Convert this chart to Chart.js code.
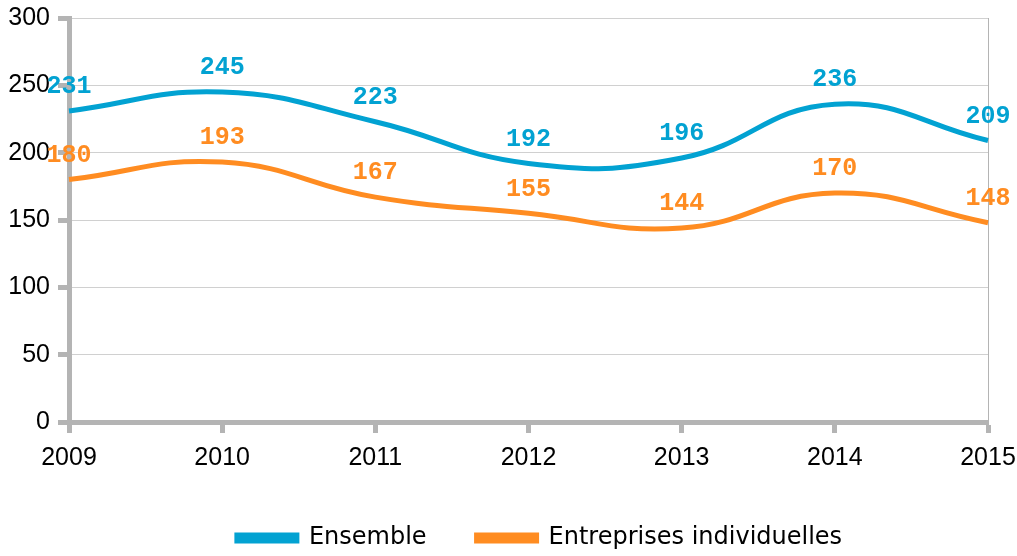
<!DOCTYPE html>
<html>
<head>
<meta charset="utf-8">
<script src="https://cdn.jsdelivr.net/npm/chart.js@4.4.1/dist/chart.umd.min.js"></script>
<style>
  html, body { margin: 0; padding: 0; background: #fff; }
  #wrap { width: 1017px; height: 556px; position: relative; }
</style>
</head>
<body>
<div id="wrap"><canvas id="c" width="1017" height="556"></canvas></div>
<script>
const years = ['2009', '2010', '2011', '2012', '2013', '2014', '2015'];
const ensemble = [231, 245, 223, 192, 196, 236, 209];
const entreprises = [180, 193, 167, 155, 144, 170, 148];
const seriesNames = ['Ensemble', 'Entreprises individuelles'];
const seriesColors = ['#02A2D2', '#FF8C21'];
const yTicks = [0, 50, 100, 150, 200, 250, 300];

const axisGray = '#b4b4b4';

const valueLabels = {
  id: 'valueLabels',
  afterDatasetsDraw(chart) {
    const ctx = chart.ctx;
    ctx.save();
    ctx.font = 'bold 25px "Liberation Mono", "Courier New", monospace';
    ctx.textAlign = 'center';
    ctx.textBaseline = 'middle';
    chart.data.datasets.forEach((ds, di) => {
      const meta = chart.getDatasetMeta(di);
      ctx.fillStyle = ds.borderColor;
      meta.data.forEach((pt, i) => {
        ctx.fillText(String(ds.data[i]), pt.x, pt.y - 24);
      });
    });
    ctx.restore();
  }
};

// shift the bottom legend so it sits where the original places it
const legendShift = {
  id: 'legendShift',
  afterLayout(chart) {
    if (chart.legend) {
      chart.legend.left += 31;
      chart.legend.right += 31;
    }
  }
};

new Chart(document.getElementById('c'), {
  type: 'line',
  data: {
    labels: years,
    datasets: [
      { label: seriesNames[0], data: ensemble, borderColor: seriesColors[0], backgroundColor: seriesColors[0], borderWidth: 5, pointRadius: 0, tension: 0.45, fill: false },
      { label: seriesNames[1], data: entreprises, borderColor: seriesColors[1], backgroundColor: seriesColors[1], borderWidth: 5, pointRadius: 0, tension: 0.45, fill: false }
    ]
  },
  options: {
    responsive: false,
    animation: false,
    layout: { padding: { top: 18, right: 0, left: 0, bottom: 0 } },
    plugins: {
      tooltip: { enabled: false },
      legend: {
        position: 'bottom',
        maxHeight: 80,
        labels: {
          boxWidth: 60,
          boxHeight: 6,
          padding: 50,
          color: '#000',
          font: { family: '"DejaVu Sans", sans-serif', size: 24 }
        }
      }
    },
    scales: {
      x: {
        type: 'category',
        offset: false,
        border: { color: axisGray, width: 5 },
        grid: {
          drawOnChartArea: true,
          color: (c) => c.index === years.length - 1 ? axisGray : 'rgba(0,0,0,0)',
          lineWidth: 1,
          tickColor: axisGray,
          tickWidth: 5,
          tickLength: 11
        },
        ticks: {
          color: '#000',
          padding: 10,
          maxRotation: 0,
          font: { family: '"Liberation Sans", Arial, sans-serif', size: 25 }
        },
        afterFit: (s) => { s.height = 54; s.paddingLeft = 0; s.paddingRight = 29; }
      },
      y: {
        min: 0,
        max: 300,
        z: 1,
        afterBuildTicks: (s) => { s.ticks = yTicks.map(v => ({ value: v })); },
        border: { color: axisGray, width: 5 },
        grid: {
          color: '#d0d0d0',
          lineWidth: 1,
          tickColor: axisGray,
          tickWidth: 5,
          tickLength: 11
        },
        ticks: {
          color: '#000',
          padding: 8,
          font: { family: '"Liberation Sans", Arial, sans-serif', size: 25 }
        },
        afterFit: (s) => { s.width = 69; s.paddingTop = 0; s.paddingBottom = 0; }
      }
    }
  },
  plugins: [valueLabels, legendShift]
});
</script>
</body>
</html>
